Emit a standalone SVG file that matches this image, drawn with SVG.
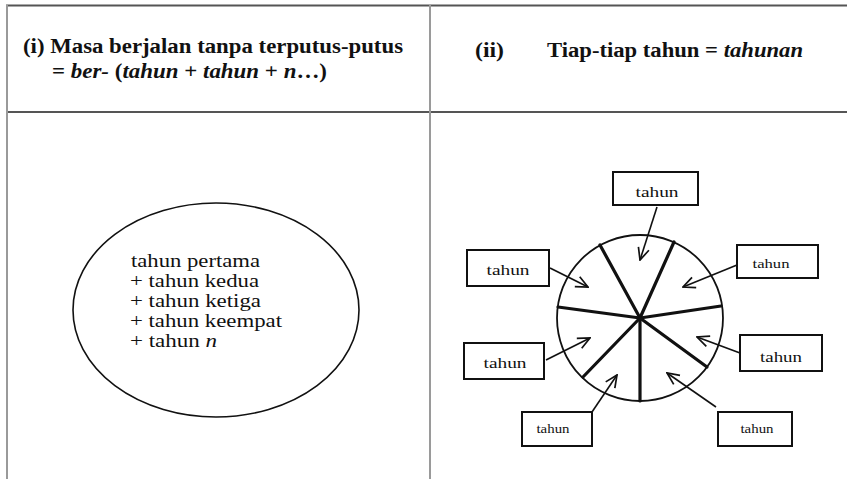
<svg xmlns="http://www.w3.org/2000/svg" width="847" height="479" viewBox="0 0 847 479">
<style>
.hline{stroke:#555;stroke-width:2.2;fill:none}
.vline{stroke:#9a9a9a;stroke-width:2;fill:none}
.hdr{font-family:"Liberation Serif",serif;font-weight:bold;font-size:20px;fill:#111}
.it{font-style:italic}
.body{font-family:"Liberation Serif",serif;font-size:18px;fill:#111}
.box{fill:#fff;stroke:#111;stroke-width:2}
.lbl{font-family:"Liberation Serif",serif;fill:#111;text-anchor:middle}
.spoke{stroke:#111;stroke-width:3.2;stroke-linecap:round}
.arr{stroke:#111;stroke-width:1.6;fill:none;marker-end:url(#ah)}
</style>
<defs>
<marker id="ah" viewBox="0 0 14 14" refX="13" refY="7" markerWidth="14" markerHeight="14" markerUnits="userSpaceOnUse" orient="auto">
<path d="M1,1.5 L13,7 L1,12.5" fill="none" stroke="#111" stroke-width="1.7"/>
</marker>
</defs>
<rect width="847" height="479" fill="#fff"/>
<g id="table">
<line class="hline" x1="6" y1="5.5" x2="847" y2="5.5"/>
<line class="hline" x1="6" y1="112" x2="847" y2="112"/>
<line class="vline" x1="7" y1="5" x2="7" y2="479"/>
<line class="vline" x1="430" y1="5" x2="430" y2="479"/>
</g>
<g id="header-i">
<text class="hdr" x="23" y="53" textLength="380" lengthAdjust="spacingAndGlyphs">(i) Masa berjalan tanpa terputus-putus</text>
<text class="hdr" x="52" y="78" textLength="275" lengthAdjust="spacingAndGlyphs">= <tspan class="it">ber-</tspan> (<tspan class="it">tahun</tspan> + <tspan class="it">tahun</tspan> + <tspan class="it">n</tspan>…)</text>
</g>
<g id="header-ii">
<text class="hdr" x="475" y="57" textLength="29" lengthAdjust="spacingAndGlyphs">(ii)</text>
<text class="hdr" x="547" y="57" textLength="256" lengthAdjust="spacingAndGlyphs">Tiap-tiap tahun = <tspan class="it">tahunan</tspan></text>
</g>
<g id="ellipse-node">
<ellipse cx="216" cy="310" rx="143" ry="107" fill="#fff" stroke="#111" stroke-width="1.6"/>
<text class="body" x="131" y="267" textLength="129" lengthAdjust="spacingAndGlyphs">tahun pertama</text>
<text class="body" x="130" y="287" textLength="129" lengthAdjust="spacingAndGlyphs">+ tahun kedua</text>
<text class="body" x="130" y="307" textLength="131" lengthAdjust="spacingAndGlyphs">+ tahun ketiga</text>
<text class="body" x="130" y="327" textLength="152" lengthAdjust="spacingAndGlyphs">+ tahun keempat</text>
<text class="body" x="130" y="347" textLength="87" lengthAdjust="spacingAndGlyphs">+ tahun <tspan class="it">n</tspan></text>
</g>
<g id="wheel">
<circle cx="640" cy="318" r="83" fill="#fff" stroke="#111" stroke-width="1.8"/>
<line class="spoke" x1="640" y1="318" x2="600" y2="245"/>
<line class="spoke" x1="640" y1="318" x2="674" y2="242"/>
<line class="spoke" x1="640" y1="318" x2="558" y2="307"/>
<line class="spoke" x1="640" y1="318" x2="721" y2="306"/>
<line class="spoke" x1="640" y1="318" x2="583" y2="377"/>
<line class="spoke" x1="640" y1="318" x2="640" y2="401"/>
<line class="spoke" x1="640" y1="318" x2="707" y2="367"/>
</g>
<g id="connectors">
<line class="arr" x1="657" y1="207" x2="640" y2="260"/>
<line class="arr" x1="737" y1="265" x2="683" y2="287"/>
<line class="arr" x1="550" y1="268" x2="588" y2="287"/>
<line class="arr" x1="546" y1="360" x2="590" y2="338"/>
<line class="arr" x1="740" y1="353" x2="697" y2="337"/>
<line class="arr" x1="592" y1="412" x2="617" y2="375"/>
<line class="arr" x1="716" y1="407" x2="667" y2="373"/>
</g>
<g id="box-top">
<rect class="box" x="613" y="172" width="85" height="33"/>
<text class="lbl" x="657" y="197" font-size="15" textLength="43" lengthAdjust="spacingAndGlyphs">tahun</text>
</g>
<g id="box-upper-right">
<rect class="box" x="737" y="245" width="81" height="33"/>
<text class="lbl" x="771" y="268" font-size="13" textLength="37" lengthAdjust="spacingAndGlyphs">tahun</text>
</g>
<g id="box-left">
<rect class="box" x="467" y="250" width="82" height="36"/>
<text class="lbl" x="508" y="275" font-size="15" textLength="43" lengthAdjust="spacingAndGlyphs">tahun</text>
</g>
<g id="box-lower-left">
<rect class="box" x="464" y="343" width="80" height="36"/>
<text class="lbl" x="505" y="368" font-size="15" textLength="43" lengthAdjust="spacingAndGlyphs">tahun</text>
</g>
<g id="box-lower-right">
<rect class="box" x="740" y="335" width="82" height="36"/>
<text class="lbl" x="781" y="362" font-size="15" textLength="42" lengthAdjust="spacingAndGlyphs">tahun</text>
</g>
<g id="box-bottom-left">
<rect class="box" x="522" y="412" width="70" height="34"/>
<text class="lbl" x="553" y="433" font-size="11.5" textLength="33" lengthAdjust="spacingAndGlyphs">tahun</text>
</g>
<g id="box-bottom-right">
<rect class="box" x="718" y="412" width="74" height="34"/>
<text class="lbl" x="757" y="433" font-size="11.5" textLength="33" lengthAdjust="spacingAndGlyphs">tahun</text>
</g>
</svg>
